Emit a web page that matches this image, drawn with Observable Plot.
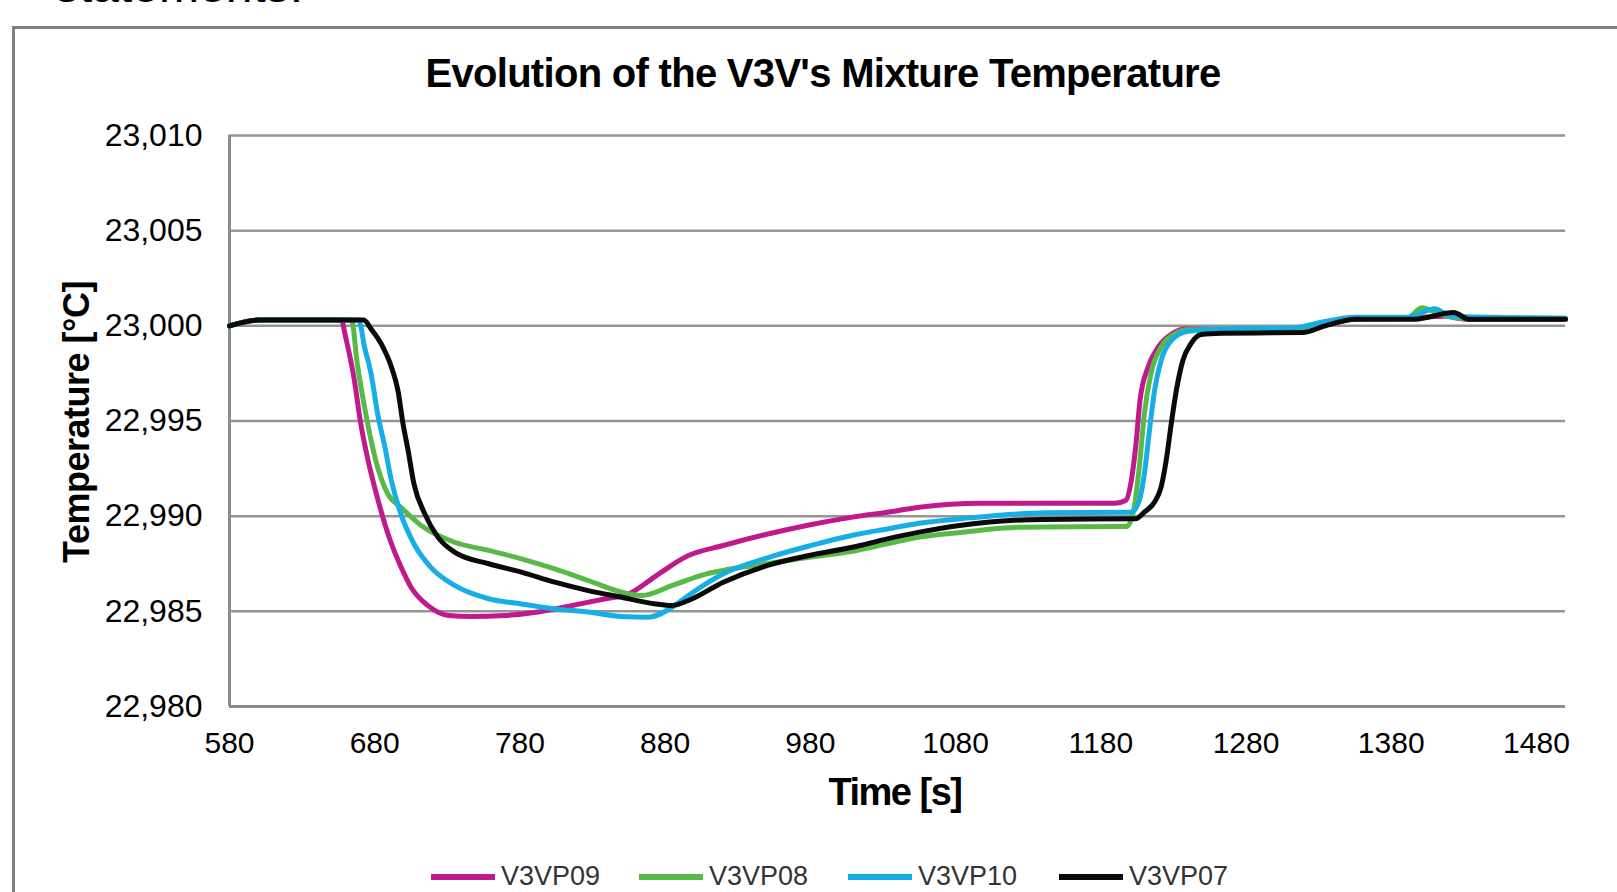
<!DOCTYPE html>
<html>
<head>
<meta charset="utf-8">
<script src="https://cdn.jsdelivr.net/npm/d3@7"></script>
<script src="https://cdn.jsdelivr.net/npm/@observablehq/plot@0.6"></script>
<style>
  html, body { margin: 0; padding: 0; background: #fff; overflow: hidden; }
  #wrap { position: relative; width: 1617px; height: 892px; }
  #wrap > svg { position: absolute; left: 0; top: 0; }
</style>
</head>
<body>
<div id="wrap"></div>
<script>
// ---- data (time in s, temperature in °C) ----
const seriesNames = ["V3VP09", "V3VP08", "V3VP10", "V3VP07"];
const seriesColors = ["#BE1A8C", "#58B947", "#17AEE5", "#0a0a0a"];

const t09 = [580,600,657,660,666,670,675.5,680,685,689,693,698,705,716.5,731,746,770,792.5,816,839,855,874,896,920,950,980,1009,1033,1055,1097,1190,1197,1201,1204,1207,1212.5,1219.5,1229,1238,1263,1319,1332,1355,1391,1417,1432,1500];
const v09 = [23.0000,23.0003,23.0003,22.9994,22.99713,22.99503,22.9929,22.9915,22.9901,22.9891,22.98825,22.98735,22.98627,22.98531,22.98478,22.98473,22.98478,22.98496,22.98531,22.98566,22.98592,22.98688,22.98793,22.98846,22.98905,22.98955,22.98995,22.99021,22.99047,22.99068,22.99068,22.99082,22.99187,22.99363,22.99608,22.99783,22.99888,22.99958,22.99984,22.9998,22.9998,23.0000,23.00035,23.0004,23.0005,23.00035,23.00035];

const t08 = [580,600,664,668,673,677.5,682,689,698,712,735,758.5,781,804,827,850,864,885,908.5,920,950,980,1009,1033,1055,1085,1125,1198,1203,1206.5,1210,1214.5,1221.5,1231,1240,1319,1332.5,1355,1391,1401,1413.5,1427,1500];
const v08 = [23.0000,23.0003,23.0003,22.998,22.99573,22.99398,22.99257,22.99117,22.99047,22.98951,22.98863,22.9882,22.98776,22.98723,22.98662,22.98601,22.98583,22.98636,22.98697,22.98715,22.9875,22.98785,22.98816,22.98855,22.9889,22.98916,22.98942,22.98946,22.99047,22.99257,22.99538,22.99748,22.99888,22.99958,22.99979,22.9998,23.0000,23.0004,23.0004,23.00095,23.0006,23.0004,23.0004];

const t10 = [580,600,669,673,677.5,682,687,691.5,698,707,718.5,735,758.5,781,804,827,850,868.5,885,896,920,950,980,1009,1033,1055,1090,1142.5,1201,1206.5,1210,1213.5,1217,1221.5,1228.5,1240,1263,1314,1332.5,1355,1391,1410,1421,1500];
const v10 = [23.0000,23.0003,23.0003,22.99888,22.99748,22.99538,22.99363,22.99187,22.99012,22.98855,22.98732,22.98636,22.98566,22.98539,22.98513,22.98496,22.98473,22.98469,22.98522,22.98583,22.98697,22.9878,22.98845,22.989,22.98933,22.98963,22.98991,22.99018,22.99021,22.99082,22.99222,22.9945,22.9966,22.99818,22.99923,22.99972,22.99984,22.9999,23.0002,23.00045,23.00045,23.0009,23.0005,23.0004];

const t07 = [580,600,672.5,677.5,684.5,691.5,696,699.5,703,707,714.5,723.5,735,758.5,781,804,827,850,873.5,885,896,920,950,980,1009,1033,1055,1101.5,1140.5,1204,1210,1217,1221.5,1225,1228.5,1232,1236.5,1242,1249,1263,1319,1334.5,1355,1396,1423,1433.5,1500];
const v07 = [23.0000,23.0003,23.0003,22.99984,22.99905,22.99783,22.9966,22.99485,22.99345,22.9917,22.99012,22.9889,22.98811,22.9875,22.98706,22.98653,22.98609,22.98574,22.98539,22.98531,22.98557,22.98653,22.9874,22.98795,22.98837,22.98881,22.98916,22.98968,22.98983,22.98986,22.99021,22.99074,22.99152,22.99292,22.99485,22.9966,22.99818,22.99905,22.99954,22.99961,22.99965,23.0000,23.00035,23.00035,23.0007,23.00035,23.00035];

const xTicks = [580,680,780,880,980,1080,1180,1280,1380,1480];
const xTickLabels = ["580","680","780","880","980","1080","1180","1280","1380","1480"];
const yTicks = [22.98,22.985,22.99,22.995,23.0,23.005,23.01];
const yTickLabels = ["22,980","22,985","22,990","22,995","23,000","23,005","23,010"];

const titleText = "Evolution of the V3V's Mixture Temperature";
const xTitle = "Time [s]";
const yTitle = "Temperature [°C]";
const topText = "statements.";

// ---- build ----
const series = [
  {name: seriesNames[0], color: seriesColors[0], t: t09, v: v09},
  {name: seriesNames[1], color: seriesColors[1], t: t08, v: v08},
  {name: seriesNames[2], color: seriesColors[2], t: t10, v: v10},
  {name: seriesNames[3], color: seriesColors[3], t: t07, v: v07}
];
const toRows = s => s.t.map((t, i) => ({t, v: s.v[i], name: s.name}));

const font = "'Liberation Sans', Arial, Helvetica, sans-serif";

const chart = Plot.plot({
  width: 1617,
  height: 892,
  marginLeft: 229,
  marginRight: 52,
  marginTop: 135,
  marginBottom: 186,
  style: {fontFamily: font, background: "transparent", color: "#000"},
  x: {domain: [580, 1500]},
  y: {domain: [22.98, 23.01]},
  marks: [
    Plot.ruleY(yTicks, {stroke: "#959595", strokeWidth: 2.5}),
    Plot.ruleX([580], {stroke: "#8c8c8c", strokeWidth: 3}),
    Plot.ruleY([22.98], {stroke: "#8c8c8c", strokeWidth: 3}),
    Plot.axisX(xTicks, {tickSize: 0, tickPadding: 25, fontSize: 30, fill: "#000",
      tickFormat: d => xTickLabels[xTicks.indexOf(d)], label: null}),
    Plot.axisY(yTicks, {tickSize: 0, tickPadding: 27, fontSize: 32, fill: "#000",
      tickFormat: d => yTickLabels[yTicks.indexOf(d)], label: null}),
    ...series.map(s => Plot.line(toRows(s), {x: "t", y: "v", stroke: s.color, strokeWidth: 5,
      curve: "monotone-x", strokeLinejoin: "round", strokeLinecap: "round"}))
  ]
});

const wrap = document.getElementById("wrap");
wrap.appendChild(chart);

// ---- overlay: titles, border, legend ----
const ov = d3.create("svg").attr("width", 1617).attr("height", 892)
  .style("font-family", font).style("pointer-events", "none");

ov.append("path").attr("d", "M13.5,892 V27.5 H1617").attr("fill", "none")
  .attr("stroke", "#808080").attr("stroke-width", 3);

ov.append("text").attr("x", 55).attr("y", 2).attr("font-size", 48).attr("fill", "#000").text(topText);

ov.append("text").attr("x", 823).attr("y", 87).attr("text-anchor", "middle")
  .attr("font-size", 40).attr("font-weight", "bold").attr("letter-spacing", "-0.7px").text(titleText);

ov.append("text").attr("x", 895).attr("y", 805).attr("text-anchor", "middle")
  .attr("font-size", 38).attr("font-weight", "bold").attr("letter-spacing", "-1.5px").text(xTitle);

ov.append("text").attr("transform", "translate(89,422) rotate(-90)").attr("text-anchor", "middle")
  .attr("font-size", 36).attr("font-weight", "bold").attr("letter-spacing", "-0.5px").text(yTitle);

const legendX = [431, 639, 848, 1059];
series.forEach((s, i) => {
  const x0 = legendX[i];
  ov.append("line").attr("x1", x0).attr("x2", x0 + 64).attr("y1", 877).attr("y2", 877)
    .attr("stroke", s.color).attr("stroke-width", 6);
  ov.append("text").attr("x", x0 + 70).attr("y", 885).attr("font-size", 27)
    .attr("fill", "#333").text(s.name);
});

wrap.appendChild(ov.node());
</script>
</body>
</html>
